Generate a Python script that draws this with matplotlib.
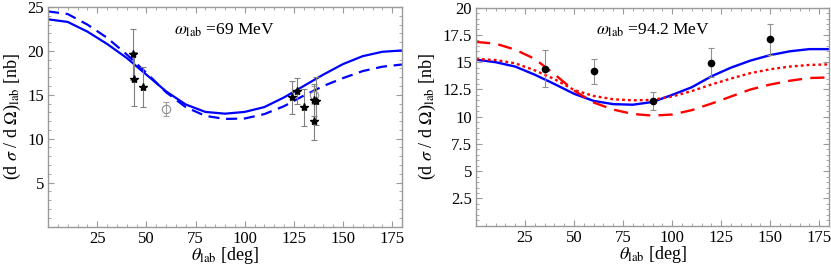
import numpy as np
import matplotlib
matplotlib.use("Agg")
import matplotlib.pyplot as plt
from matplotlib.ticker import MultipleLocator

plt.rcParams['font.family'] = ['Liberation Serif', 'DejaVu Serif']
plt.rcParams['mathtext.fontset'] = 'stix'

# ---------------- data ----------------
theta = [0, 10, 20, 30, 40, 50, 60, 70, 80, 90, 100, 110, 120, 130, 140, 150, 160, 170, 180]

# Left panel (omega = 69 MeV)
left_solid = [23.6, 23.3, 22.2, 20.8, 19.2, 17.3, 15.4, 13.9, 13.05, 12.85, 13.05, 13.6, 14.7, 16.0, 17.3, 18.5, 19.4, 19.9, 20.05]
left_dashed = [24.5, 24.2, 23.0, 21.5, 19.6, 17.5, 15.3, 13.6, 12.6, 12.25, 12.3, 12.8, 13.7, 14.9, 16.0, 16.9, 17.7, 18.2, 18.45]

left_star_x = [43, 43.5, 48.5, 124, 126.5, 130, 135.5, 135.5, 136.5]
left_star_y = [19.6, 16.8, 15.9, 14.7, 15.4, 13.6, 14.4, 12.0, 14.3]
left_star_err = [2.9, 3.1, 2.3, 1.85, 1.5, 2.1, 1.8, 2.2, 2.7]

left_open_x = [60, 135]
left_open_y = [13.4, 15.0]
left_open_err = [0.8, 1.0]

# Right panel (omega = 94.2 MeV)
right_solid = [15.23, 15.0, 14.6, 13.85, 13.0, 12.1, 11.45, 11.15, 11.1, 11.35, 12.0, 12.7, 13.7, 14.5, 15.15, 15.65, 16.0, 16.2, 16.2]
right_dotted = [15.3, 15.2, 14.9, 14.25, 13.45, 12.45, 11.9, 11.6, 11.5, 11.55, 11.85, 12.35, 12.95, 13.5, 14.0, 14.35, 14.6, 14.75, 14.8]
right_dashed = [16.86, 16.7, 16.15, 15.3, 13.9, 12.4, 11.3, 10.65, 10.25, 10.1, 10.2, 10.6, 11.2, 11.85, 12.5, 12.95, 13.3, 13.55, 13.6]

right_pt_x = [35, 60, 90, 120, 150]
right_pt_y = [14.4, 14.15, 11.45, 14.95, 17.1]
right_pt_err = [1.7, 1.15, 0.8, 1.35, 1.4]

labels_left = "$\\omega_{\\rm lab}$ =69 MeV"
labels_right = "$\\omega_{\\rm lab}$ =94.2 MeV"
xlabel = "$\\theta_{\\rm lab}$ [deg]"
ylabel = "(d $\\sigma$ / d $\\Omega$)$_{\\rm lab}$ [nb]"

# ---------------- figure ----------------
W, H = 831, 266
fig = plt.figure(figsize=(W / 100, H / 100), dpi=100)
axL = fig.add_axes([48 / W, 1 - 226.5 / H, 354 / W, 219.5 / H])
axR = fig.add_axes([476 / W, 1 - 225.7 / H, 353 / W, 218 / H])

frame_col = '#9a9a9a'
err_col = '#808080'

def style(ax, ymax, ymajor, yminor, yfirst):
    ax.set_xlim(0, 180)
    ax.set_ylim(0, ymax)
    ax.xaxis.set_major_locator(MultipleLocator(25))
    ax.xaxis.set_minor_locator(MultipleLocator(5))
    ax.yaxis.set_major_locator(MultipleLocator(ymajor))
    ax.yaxis.set_minor_locator(MultipleLocator(yminor))
    for s in ax.spines.values():
        s.set_color(frame_col)
        s.set_linewidth(1.0)
    ax.tick_params(which='both', direction='in', top=True, right=True, color=frame_col,
                   labelsize=12, pad=3)
    ax.tick_params(which='major', length=4, width=0.8)
    ax.tick_params(which='minor', length=2, width=0.6)
    xt = [t for t in range(25, 180, 25)]
    ax.set_xticks(xt)
    ax.set_xticklabels([str(t) for t in xt])
    yt = list(np.arange(yfirst, ymax + 1e-9, ymajor))
    ax.set_yticks(yt)
    ax.set_yticklabels([("%g" % v) for v in yt])
    ax.set_xlabel(xlabel, fontsize=13, labelpad=-1)
    ax.set_ylabel(ylabel, fontsize=13, labelpad=3)

style(axL, 25, 5, 1, 5)
style(axR, 20, 2.5, 0.5, 2.5)

# Left panel
axL.plot(theta, left_solid, color='#0000ff', lw=1.6, solid_capstyle='butt')
axL.plot(theta, left_dashed, color='#0000ff', lw=1.6, dashes=(5, 3))
axL.errorbar(left_open_x, left_open_y, yerr=left_open_err, fmt='o', mfc='none', mec='#909090',
             ms=6, mew=0.8, ecolor='#a0a0a0', elinewidth=0.8, capsize=2)
axL.errorbar(left_star_x, left_star_y, yerr=left_star_err, fmt='*', color='black', ms=6,
             ecolor=err_col, elinewidth=0.8, capsize=2, capthick=0.8)
axL.text(89.5, 22.4, labels_left, ha='center', va='center', fontsize=12.5)

# Right panel
axR.plot(theta, right_solid, color='#0000ff', lw=1.7)
axR.plot(theta, right_dotted, color='#ff0000', lw=1.7, dashes=(1.2, 1.3))
axR.plot(theta, right_dashed, color='#ff0000', lw=1.7, dashes=(6, 3.5))
axR.errorbar(right_pt_x, right_pt_y, yerr=right_pt_err, fmt='o', color='black', ms=4.5,
             ecolor='#909090', elinewidth=0.8, capsize=2.5, capthick=0.8)
axR.text(90.5, 17.9, labels_right, ha='center', va='center', fontsize=12.5)

fig.savefig('out.png', dpi=100)
